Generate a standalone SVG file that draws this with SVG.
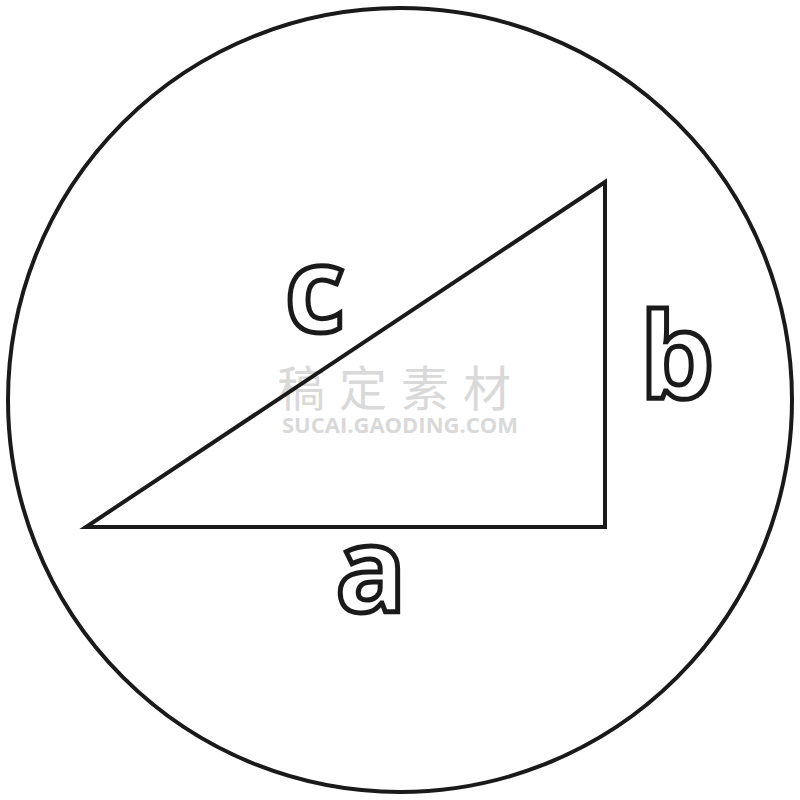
<svg xmlns="http://www.w3.org/2000/svg" width="800" height="800" viewBox="0 0 800 800">
<style>
.shape{fill:none;stroke:#1a1a1a;stroke-width:4;stroke-linejoin:miter}
.lbl{font-family:"Open Sans","Liberation Sans",sans-serif;font-weight:bold;font-size:118px;fill:#fff;stroke:#1a1a1a;stroke-width:5;text-anchor:middle}
.wm{fill:#d9d9d9;text-anchor:middle}
</style>
<rect width="800" height="800" fill="#fff"/>
<g id="watermark">
<text class="wm" x="401" y="406" font-family="'Noto Sans CJK SC',sans-serif" font-size="48" letter-spacing="14">稿定素材</text>
<text class="wm" x="400" y="433" font-family="'Open Sans','Liberation Sans',sans-serif" font-weight="bold" font-size="22">SUCAI.GAODING.COM</text>
</g>
<g id="circle"><circle class="shape" cx="400" cy="400" r="392" stroke-width="3"/></g>
<g id="triangle"><polygon class="shape" points="86,527 605,527 605,182"/></g>
<g id="label-c"><text class="lbl" x="315" y="332">c</text></g>
<g id="label-b"><text class="lbl" x="677" y="398">b</text></g>
<g id="label-a"><text class="lbl" x="371" y="612">a</text></g>
</svg>
